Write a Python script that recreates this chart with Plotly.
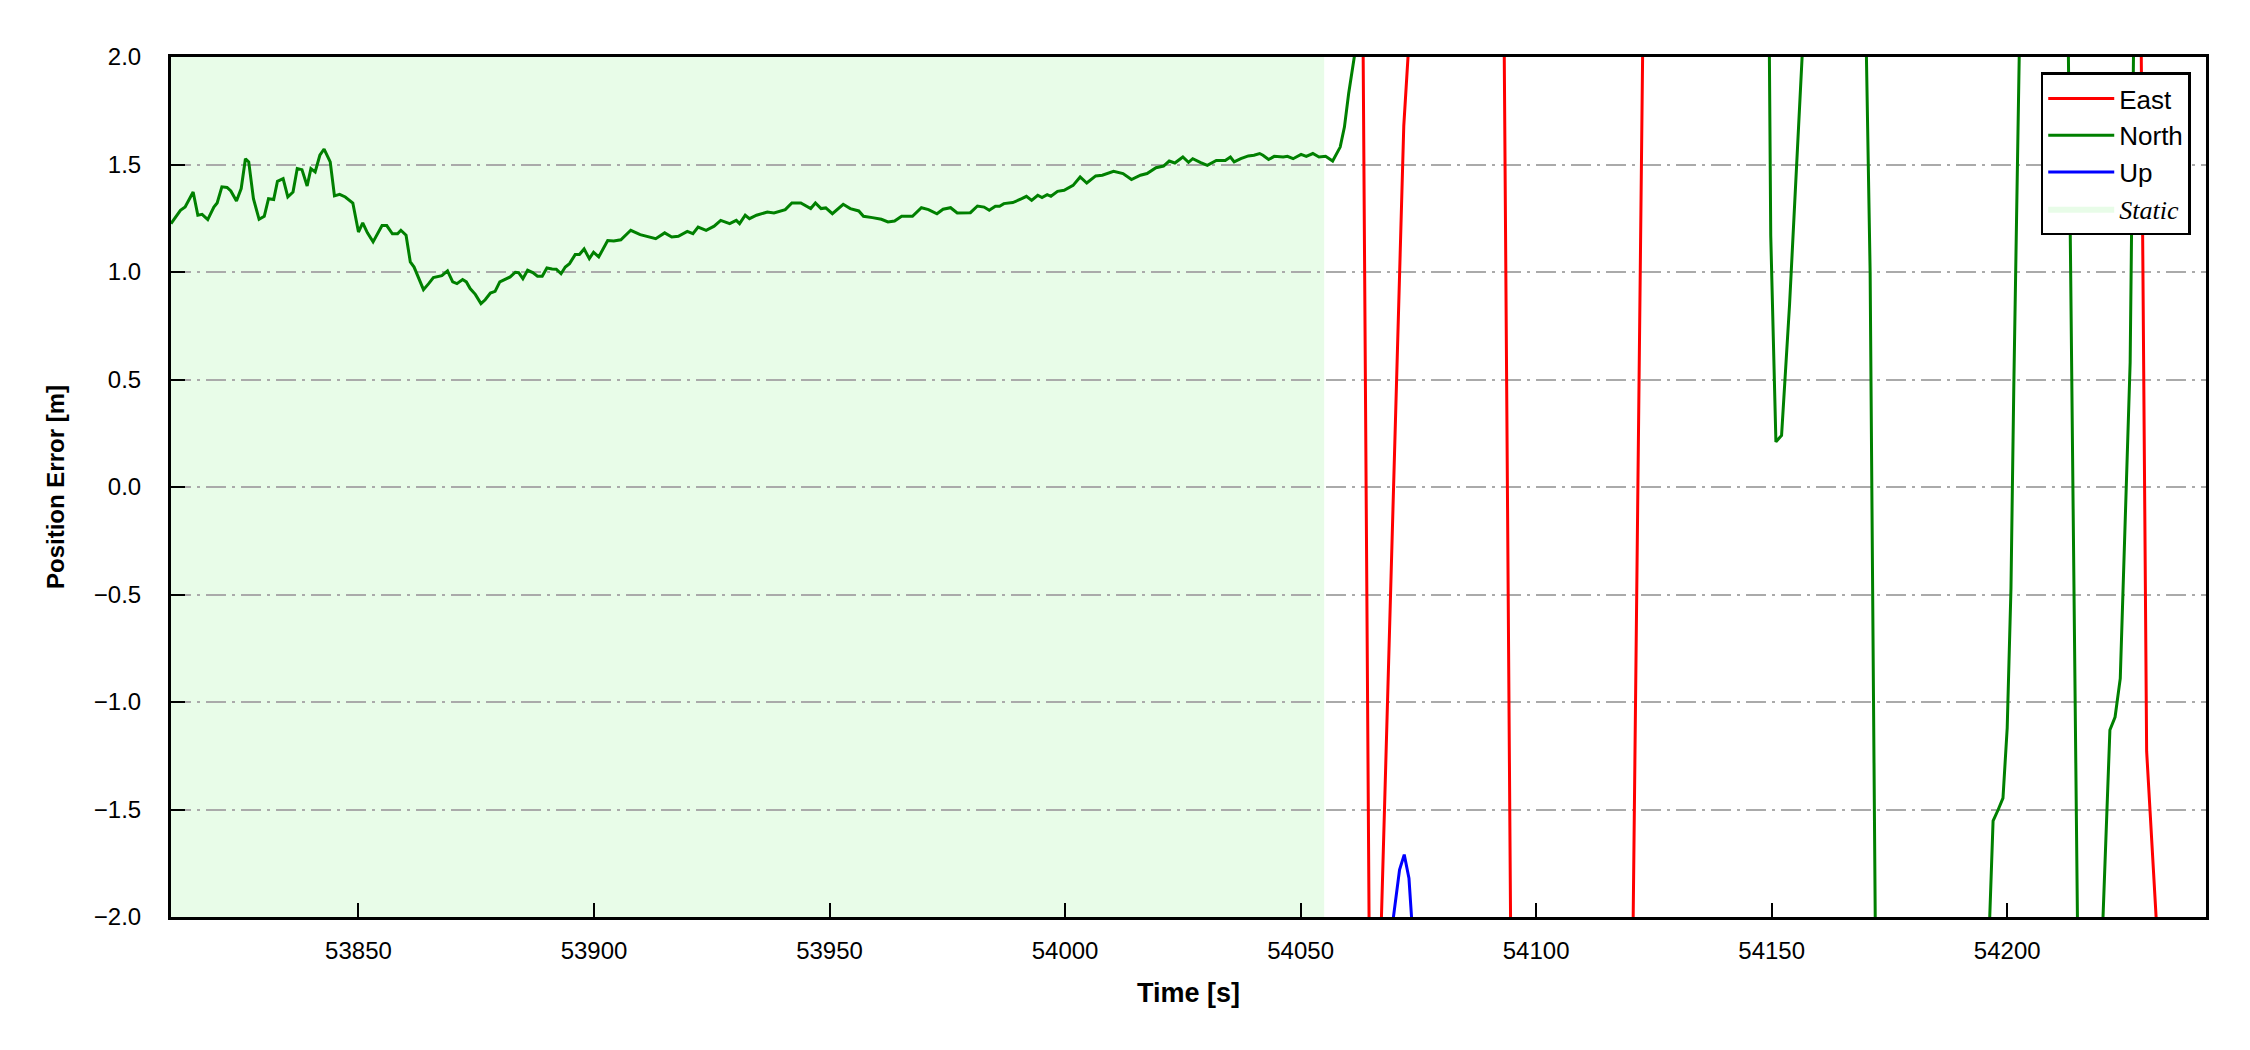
import plotly.graph_objects as go

# ---------------- data ----------------
x_start, x_end = 53810.2, 54242.2
static_start, static_end = 53810.2, 54055.0

north_t = [
    53810.2, 53812.2, 53813.2, 53814.9, 53815.9, 53816.8, 53818.0, 53819.3, 53820.0, 53821.0,
    53822.1, 53822.9, 53824.1, 53825.1, 53826.0, 53826.7, 53827.7, 53828.9, 53830.0, 53830.9,
    53832.0, 53832.8, 53834.0, 53835.0, 53836.1, 53837.0, 53838.0, 53839.1, 53839.9, 53840.8,
    53841.8, 53842.7, 53844.0, 53844.9, 53846.0, 53847.2, 53848.8, 53850.0, 53850.9, 53851.9,
    53853.1, 53854.1, 53855.0, 53856.0, 53857.2, 53858.3, 53859.0, 53860.1, 53861.0, 53861.8,
    53863.8, 53864.9, 53865.9, 53867.7, 53868.9, 53870.0, 53870.9, 53872.1, 53872.9, 53873.7,
    53874.8, 53876.0, 53876.9, 53878.0, 53879.0, 53880.0, 53881.2, 53882.2, 53883.3, 53884.0,
    53884.9, 53885.9, 53887.0, 53888.0, 53889.0, 53890.0, 53891.1, 53892.0, 53893.0, 53893.9,
    53894.8, 53896.0, 53896.9, 53897.9, 53899.0, 53899.9, 53901.0, 53902.9, 53904.2, 53905.7,
    53907.8, 53909.8,
    53913.1, 53915.0, 53916.5, 53917.9, 53919.8, 53921.0, 53922.1, 53923.8, 53925.5, 53926.9,
    53928.8, 53930.2, 53930.9, 53932.1, 53933.0, 53934.5, 53936.8, 53938.2, 53940.6, 53942.0,
    53943.9, 53946.0, 53947.0, 53948.2, 53949.2, 53950.6, 53952.9, 53954.4, 53956.2, 53957.2,
    53959.1, 53961.0, 53962.4, 53963.8, 53965.3, 53967.6, 53969.5, 53971.0, 53972.8, 53974.1,
    53975.7, 53977.1, 53979.9, 53981.4, 53982.8, 53983.9, 53985.2, 53986.1, 53987.0, 53988.9,
    53990.8, 53991.8, 53992.9, 53994.2, 53995.1, 53996.2, 53997.0, 53998.4, 53999.8, 54001.7,
    54003.2, 54004.6, 54006.5, 54007.9, 54010.3, 54012.3, 54014.1, 54016.0, 54017.4, 54019.3,
    54020.9, 54022.1, 54023.3, 54025.0, 54026.2, 54027.1, 54028.8, 54030.2, 54032.1, 54034.0,
    54035.1, 54035.9, 54037.3, 54038.9, 54040.1, 54041.3, 54042.0, 54043.2, 54044.4, 54046.3,
    54047.2, 54048.4, 54050.1, 54051.2, 54052.6, 54053.9, 54055.3,
    54056.8, 54058.4, 54059.3, 54060.2, 54062.8, 54080.0, 54110.0, 54135.0, 54149.0, 54149.8,
    54150.9, 54152.1, 54153.8, 54157.5, 54163.0, 54169.8, 54170.9, 54172.2, 54185.0, 54195.5,
    54197.0, 54198.1, 54199.1, 54200.0, 54200.8, 54201.4, 54202.0, 54203.0, 54208.0, 54212.8,
    54215.0, 54219.5, 54221.8, 54222.9, 54224.0, 54226.1, 54227.3, 54235.0, 54242.2,
]
north_v = [
    1.225, 1.287, 1.302, 1.372, 1.264, 1.268, 1.244, 1.302, 1.321, 1.396,
    1.393, 1.377, 1.330, 1.388, 1.527, 1.512, 1.341, 1.245, 1.259, 1.341,
    1.337, 1.422, 1.434, 1.349, 1.372, 1.481, 1.476, 1.400, 1.481, 1.465,
    1.543, 1.572, 1.512, 1.354, 1.361, 1.349, 1.321, 1.186, 1.228, 1.182,
    1.140, 1.178, 1.216, 1.216, 1.178, 1.178, 1.194, 1.171, 1.047, 1.023,
    0.918, 0.946, 0.974, 0.983, 1.005, 0.954, 0.946, 0.965, 0.954, 0.923,
    0.896, 0.853, 0.871, 0.902, 0.910, 0.954, 0.965, 0.977, 0.999, 0.997,
    0.969, 1.008, 0.997, 0.980, 0.980, 1.019, 1.014, 1.013, 0.992, 1.023,
    1.039, 1.081, 1.081, 1.107, 1.062, 1.092, 1.070, 1.146, 1.144, 1.150,
    1.194, 1.174,
    1.155, 1.182, 1.163, 1.166, 1.189, 1.178, 1.209, 1.194, 1.213, 1.240,
    1.225, 1.240, 1.225, 1.264, 1.248, 1.264, 1.279, 1.275, 1.290, 1.321,
    1.321, 1.295, 1.321, 1.295, 1.298, 1.271, 1.315, 1.295, 1.284, 1.259,
    1.253, 1.245, 1.233, 1.237, 1.259, 1.259, 1.299, 1.290, 1.271, 1.292,
    1.299, 1.275, 1.276, 1.307, 1.302, 1.287, 1.306, 1.306, 1.318, 1.323,
    1.341, 1.352, 1.333, 1.357, 1.346, 1.360, 1.352, 1.375, 1.380, 1.403,
    1.442, 1.414, 1.447, 1.450, 1.468, 1.458, 1.430, 1.450, 1.458, 1.485,
    1.493, 1.516, 1.507, 1.535, 1.510, 1.527, 1.509, 1.496, 1.519, 1.519,
    1.535, 1.512, 1.527, 1.540, 1.543, 1.551, 1.543, 1.523, 1.538, 1.535,
    1.538, 1.527, 1.547, 1.538, 1.551, 1.535, 1.538,
    1.516, 1.581, 1.674, 1.830, 2.200, 3.600, 4.400, 4.100, 3.500, 1.170,
    0.210, 0.240, 0.850, 2.450, 3.200, 2.400, 1.000, -2.600, -4.200, -2.500,
    -1.553, -1.500, -1.447, -1.120, -0.470, 0.470, 1.350, 2.600, 3.600, 2.400,
    -2.200, -2.500, -1.130, -1.070, -0.890, 0.580, 3.000, 4.200, 4.800,
]

east_t = [53810.2, 53900.0, 54000.0, 54055.0, 54063.0, 54065.0, 54066.0, 54071.9, 54073.5,
          54085.0, 54093.0, 54095.0, 54108.0, 54120.0, 54123.0, 54150.0, 54200.0, 54228.0, 54229.6,
          54232.0, 54242.2]
east_v = [2.6, 2.8, 3.0, 3.1, 2.9, -3.5, -2.9, 1.68, 2.25,
          3.5, 2.7, -3.3, -5.0, -3.2, 2.8, 5.0, 6.0, 3.3, -1.23,
          -2.15, -2.6]

up_t = [53810.2, 53950.0, 54055.0, 54066.0, 54069.0, 54071.0, 54072.0, 54073.0, 54074.0, 54085.0,
        54150.0, 54242.2]
up_v = [-2.8, -3.0, -3.2, -2.6, -2.12, -1.78, -1.71, -1.82, -2.15, -3.5,
        -6.0, -8.0]

x_ticks = [53850, 53900, 53950, 54000, 54050, 54100, 54150, 54200]
y_ticks = [-2.0, -1.5, -1.0, -0.5, 0.0, 0.5, 1.0, 1.5, 2.0]

# ---------------- style ----------------
FONT = "Liberation Sans, Arial, sans-serif"
STATIC_COLOR = "#e8fce8"

fig = go.Figure()
fig.add_trace(go.Scatter(x=east_t, y=east_v, mode="lines", name="East",
                         line=dict(color="#ff0000", width=3)))
fig.add_trace(go.Scatter(x=north_t, y=north_v, mode="lines", name="North",
                         line=dict(color="#008000", width=3)))
fig.add_trace(go.Scatter(x=up_t, y=up_v, mode="lines", name="Up",
                         line=dict(color="#0000ff", width=3)))
# legend entry for the static period
fig.add_trace(go.Scatter(x=[None], y=[None], mode="lines", fill="toself",
                         fillcolor=STATIC_COLOR, line=dict(width=0, color=STATIC_COLOR),
                         name="<span style='font-family:Liberation Serif, Times New Roman, serif'><i>Static</i></span>"))

fig.add_vrect(x0=static_start, x1=static_end, fillcolor=STATIC_COLOR, opacity=1,
              line_width=0, layer="below")

fig.update_layout(
    width=2250, height=1050,
    margin=dict(l=171, r=44, t=57, b=133),
    paper_bgcolor="white", plot_bgcolor="white",
    font=dict(family=FONT, size=23, color="black"),
    showlegend=True,
    legend=dict(x=0.9925, y=0.982, xanchor="right", yanchor="top",
                bgcolor="white", bordercolor="black", borderwidth=2.5,
                font=dict(family=FONT, size=26, color="black"),
                itemwidth=66, tracegroupgap=0),
)
fig.update_xaxes(
    range=[x_start, x_end], tickmode="array", tickvals=x_ticks,
    ticktext=[str(v) for v in x_ticks],
    showgrid=False, zeroline=False,
    showline=True, linecolor="black", linewidth=3, mirror=True,
    ticks="inside", ticklen=14, tickwidth=2, tickcolor="black",
    tickfont=dict(family=FONT, size=24), ticklabelstandoff=10,
    title=dict(text="<b>Time [s]</b>", font=dict(family=FONT, size=27), standoff=21),
)
fig.update_yaxes(
    range=[-2, 2], tickmode="array", tickvals=y_ticks,
    ticktext=[("\u2212" if v < 0 else "") + f"{abs(v):.1f}" for v in y_ticks],
    showgrid=True, gridcolor="#aaaaaa", gridwidth=2, griddash="20px,6px,3px,6px",
    zeroline=False,
    showline=True, linecolor="black", linewidth=3, mirror=True,
    ticks="inside", ticklen=14, tickwidth=2, tickcolor="black",
    tickfont=dict(family=FONT, size=24), ticklabelstandoff=22,
    title=dict(text="<b>Position Error [m]</b>", font=dict(family=FONT, size=24), standoff=23),
)

fig.write_html("out.html", config={"displayModeBar": False},
               post_script="document.body.style.margin='0';document.body.style.overflow='hidden';")
